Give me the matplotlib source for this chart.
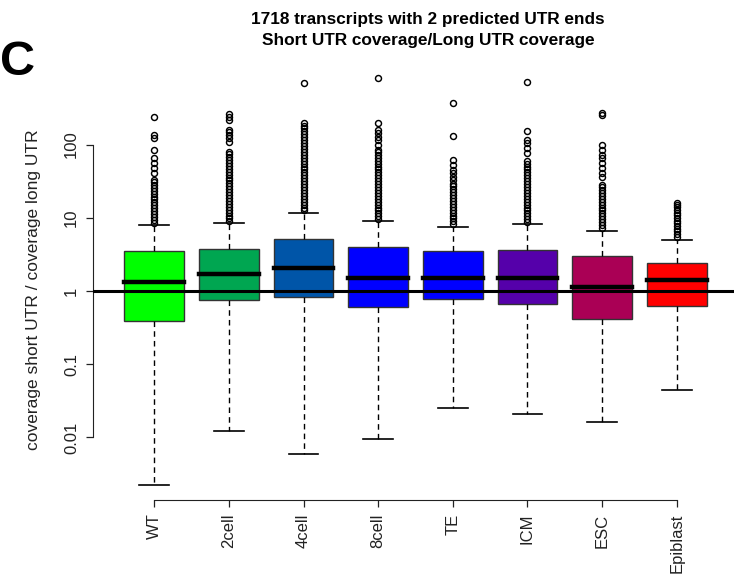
import matplotlib
matplotlib.use("Agg")
import matplotlib.pyplot as plt

plt.rcParams["font.family"] = ["Liberation Sans", "DejaVu Sans"]

# Sample groups
groups = ["WT", "2cell", "4cell", "8cell", "TE", "ICM", "ESC", "Epiblast"]
colors = ["#00FF00", "#00A651", "#0055A8", "#0000FF", "#0000FF", "#5500AA", "#AA0055", "#FF0000"]

# Box statistics (short UTR coverage / long UTR coverage)
medians = [1.31, 1.72, 2.08, 1.52, 1.52, 1.52, 1.15, 1.41]
q1 = [0.39, 0.746, 0.836, 0.60, 0.78, 0.66, 0.41, 0.63]
q3 = [3.52, 3.78, 5.18, 3.95, 3.52, 3.67, 3.00, 2.39]
whisker_lo = [0.00226, 0.01235, 0.00588, 0.00942, 0.0255, 0.0211, 0.0164, 0.0444]
whisker_hi = [8.05, 8.4, 11.5, 9.04, 7.56, 8.15, 6.67, 5.02]

# Outlying ratios per group
out_wt = [8.5, 9.3, 10.2, 11.2, 12.3, 13.5, 14.8, 16.2, 17.8, 19.5, 21.4, 23.4, 25.7,
          28.2, 30.9, 33.1, 40.6, 47.4, 55.6, 65.0, 84.4, 122, 135, 236]
out_2cell = [8.9, 9.8, 10.7, 11.7, 12.9, 14.1, 15.5, 17.0, 18.6, 20.4, 22.4, 24.5, 26.9,
             29.5, 32.4, 35.5, 38.9, 42.7, 46.8, 51.3, 56.2, 61.7, 67.6, 74.1, 79.4,
             110, 122, 135, 150, 158, 217, 240, 259]
out_4cell = [12.6, 13.8, 15.1, 16.6, 18.2, 20.0, 21.9, 24.0, 26.3, 28.8, 31.6, 34.7, 38.0,
             41.7, 45.7, 50.1, 55.0, 60.3, 66.1, 72.4, 79.4, 87.1, 95.5, 105, 115, 126,
             138, 151, 166, 182, 200, 688]
out_8cell = [9.5, 10.5, 11.5, 12.6, 13.8, 15.1, 16.6, 18.2, 20.0, 21.9, 24.0, 26.3, 28.8,
             31.6, 34.7, 38.0, 41.7, 45.7, 50.1, 55.0, 60.3, 66.1, 72.4, 79.4, 85.0,
             98.8, 116, 128, 143, 158, 195, 813]
out_te = [8.1, 8.9, 9.8, 10.7, 11.7, 12.9, 14.1, 15.5, 17.0, 18.6, 20.4, 22.4, 24.5, 26.9,
          28.8, 32.8, 36.5, 40.6, 45.0, 52.6, 61.6, 131, 367]
out_icm = [8.7, 9.5, 10.5, 11.5, 12.6, 13.8, 15.1, 16.6, 18.2, 20.0, 21.9, 24.0, 26.3,
           28.8, 31.6, 34.7, 38.0, 41.7, 45.7, 50.1, 55.0, 60.3, 76.0, 89.0, 104, 116,
           153, 724]
out_esc = [7.2, 7.9, 8.7, 9.5, 10.5, 11.5, 12.6, 13.8, 15.1, 16.6, 18.2, 20.0, 21.9, 24.0,
           26.3, 28.2, 36.5, 40.6, 47.4, 55.6, 65.0, 72.0, 84.0, 98.8, 254, 273]
out_epi = [5.5, 6.0, 6.5, 7.1, 7.7, 8.4, 9.1, 9.9, 10.8, 11.7, 12.8, 13.9, 15.1, 16.1]
outliers = [out_wt, out_2cell, out_4cell, out_8cell, out_te, out_icm, out_esc, out_epi]

y_ticks = [0.01, 0.1, 1, 10, 100]
y_tick_labels = ["0.01", "0.1", "1", "10", "100"]

W, H = 734, 576
fig = plt.figure(figsize=(W / 100, H / 100), dpi=100)
ax = fig.add_axes([93 / W, 1 - 500.4 / H, (738 - 93) / W, (500.4 - 61.7) / H])

stats = []
for i, g in enumerate(groups):
    stats.append(dict(label=g, med=medians[i], q1=q1[i], q3=q3[i],
                      whislo=whisker_lo[i], whishi=whisker_hi[i], fliers=outliers[i]))

positions = list(range(1, len(groups) + 1))
bp = ax.bxp(stats, positions=positions, widths=0.8, patch_artist=True,
            boxprops=dict(edgecolor="#333333", linewidth=1.0),
            whiskerprops=dict(color="black", linewidth=1.0, linestyle=(0, (4, 3))),
            capprops=dict(color="black", linewidth=1.2),
            medianprops=dict(color="black", linewidth=3.2, solid_capstyle="projecting"),
            flierprops=dict(marker="o", markerfacecolor="none", markeredgecolor="black",
                            markersize=4.3, markeredgewidth=1.05, linestyle="none"))
for patch, c in zip(bp["boxes"], colors):
    patch.set_facecolor(c)

ax.axhline(1, color="black", linewidth=2.2, zorder=5)

ax.set_yscale("log")
ax.set_ylim(10 ** -2.86, 10 ** 3.132)
ax.set_xlim(0.18, 8.82)

ax.set_yticks(y_ticks)
ax.set_yticklabels(y_tick_labels)
ax.yaxis.set_minor_locator(matplotlib.ticker.NullLocator())
ax.set_xticks(positions)
ax.set_xticklabels(groups)

for s in ["top", "right"]:
    ax.spines[s].set_visible(False)
ax.spines["left"].set_bounds(0.01, 100)
ax.spines["bottom"].set_bounds(1, 8)
ax.spines["left"].set_color("#222222")
ax.spines["bottom"].set_color("#222222")

ax.tick_params(axis="y", direction="out", length=5, width=0.9, pad=5,
               labelsize=12, labelrotation=90, colors="#222222")
ax.tick_params(axis="x", direction="out", length=5, width=0.9, pad=4.5,
               labelsize=12, labelrotation=90, colors="#222222")
for lbl in ax.get_yticklabels():
    lbl.set_verticalalignment("center")
    lbl.set_horizontalalignment("right")
for lbl in ax.get_xticklabels():
    lbl.set_verticalalignment("top")
    lbl.set_horizontalalignment("center")

fig.text(34 / W, 1 - 290 / H, "coverage short UTR / coverage long UTR",
         rotation=90, ha="center", va="center", fontsize=12.5, color="#222222")

fig.text(428 / W, 1 - 24 / H, "1718 transcripts with 2 predicted UTR ends",
         ha="center", va="baseline", fontsize=12.4, fontweight="bold")
fig.text(428 / W, 1 - 45 / H, "Short UTR coverage/Long UTR coverage",
         ha="center", va="baseline", fontsize=12.4, fontweight="bold")

fig.text(0 / W, 1 - 75 / H, "C", ha="left", va="baseline", fontsize=35, fontweight="bold")

fig.savefig("out.png", dpi=100)
